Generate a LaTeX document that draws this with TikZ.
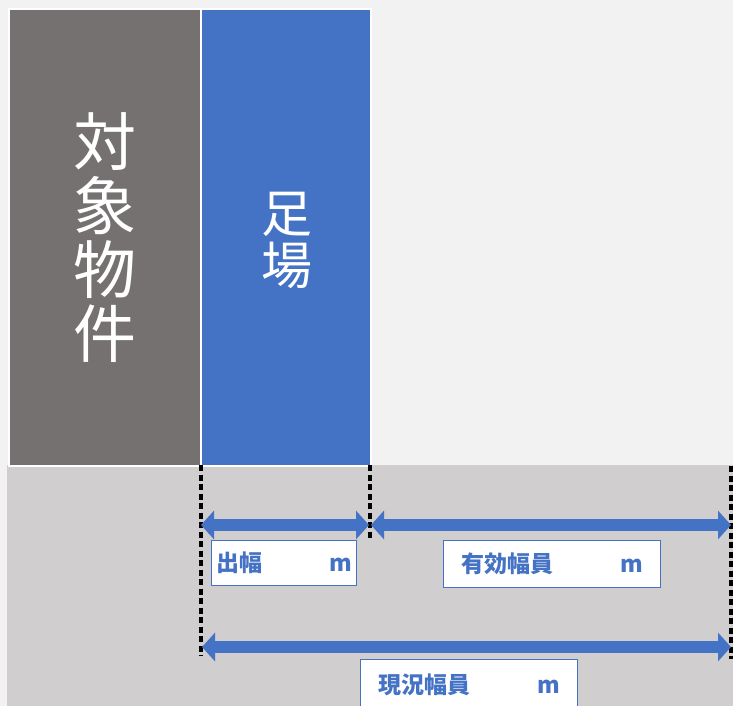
\documentclass[tikz,border=0pt]{standalone}
\usepackage{fontspec}
\newfontfamily\jp{Noto Sans CJK JP}
\usetikzlibrary{arrows.meta}
\definecolor{bgc}{HTML}{F2F2F2}
\definecolor{groundc}{HTML}{D0CECE}
\definecolor{bldgc}{HTML}{767171}
\definecolor{blu}{HTML}{4472C4}
\tikzset{
  block/.style={draw=white, line width=2pt, inner sep=0pt, anchor=north west},
  bigtxt/.style={text=white, font=\jp, align=center},
  dimline/.style={draw=black, line width=3.4pt, dash pattern=on 6pt off 3.5pt},
  dimarrow/.style={draw=blu, line width=12pt,
     {Triangle[width=28pt,length=13pt]}-{Triangle[width=28pt,length=13pt]}},
  lbl/.style={draw=blu, line width=1.4pt, fill=white, inner sep=0pt,
     text=blu, font=\jp\bfseries\fontsize{23pt}{26pt}\selectfont},
}
\begin{document}
\begin{tikzpicture}[x=1pt,y=-1pt]
\useasboundingbox (0,0) rectangle (733,706);
\fill[bgc] (0,0) rectangle (733,706);
% ground area
\node[fill=groundc, inner sep=0pt, minimum width=726pt, minimum height=241pt, anchor=north west] (ground) at (7,465) {};
% building and scaffold
\node[block, fill=bldgc, minimum width=193pt, minimum height=457pt] (bldg) at (8,8) {};
\node[block, fill=blu, minimum width=170pt, minimum height=457pt] (scaf) at (200,8) {};
\node[bigtxt, font=\jp\fontsize{63pt}{64pt}\selectfont] (bldgtxt) at (105,238) {対\\象\\物\\件};
\node[bigtxt, font=\jp\fontsize{51pt}{52pt}\selectfont] (scaftxt) at (287,240) {足\\場};
% dimension guide lines
\coordinate (d1t) at (201,465); \coordinate (d1b) at (201,656);
\coordinate (d2t) at (370,465); \coordinate (d2b) at (370,538);
\coordinate (d3t) at (731,466); \coordinate (d3b) at (731,659);
\draw[dimline] (d1t) -- (d1b);
\draw[dimline] (d2t) -- (d2b);
\draw[dimline] (d3t) -- (d3b);
% arrows
\coordinate (a1l) at (201,525); \coordinate (a1r) at (369,525);
\coordinate (a2l) at (371,525); \coordinate (a2r) at (731,525);
\coordinate (a3l) at (202,647); \coordinate (a3r) at (731,647);
\draw[dimarrow] (a1l) -- (a1r);
\draw[dimarrow] (a2l) -- (a2r);
\draw[dimarrow] (a3l) -- (a3r);
% labels
\node[lbl, minimum width=145pt, minimum height=45pt, anchor=north west] (lb1) at (211,540) {\makebox[135pt]{出幅\hfill m}};
\node[lbl, minimum width=217pt, minimum height=47pt, anchor=north west] (lb2) at (443,540) {\makebox[181pt]{有効幅員\hfill m}};
\node[lbl, minimum width=217pt, minimum height=50pt, anchor=north west] (lb3) at (360,659) {\makebox[181pt]{現況幅員\hfill m}};
\end{tikzpicture}
\end{document}
